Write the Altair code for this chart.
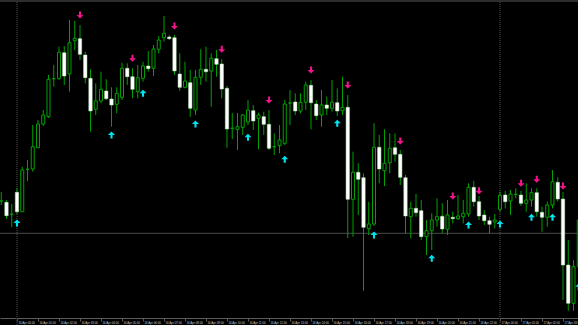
import altair as alt
import pandas as pd

# ---- candle data (index, open, high, low, close) ----
opens = [119, 117.7, 105.7, 127.7, 108.3, 150.7, 151, 172.3, 196, 203.3,
         241.3, 241.7, 267.3, 246, 279.3, 281.3, 265, 241.7, 210.7, 219,
         229, 221, 215.7, 222.7, 251.7, 243.3, 228.3, 241.7, 254, 251.7,
         270.7, 282.3, 283, 282.3, 246, 232.7, 237.3, 210, 242.7, 250.7,
         249, 261.3, 256, 231.7, 191.7, 190.7, 192.7, 198, 209.3, 201.7,
         203.3, 195.7, 173.3, 174.3, 176.7, 217, 218, 209, 217.7, 234.7,
         216, 205, 215, 211.7, 217.3, 209.3, 212.7, 120.7, 147.7, 142.3,
         91.3, 96, 172.7, 149.3, 157.3, 172.3, 165.7, 142.3, 103.3, 111.7,
         109.3, 83.3, 89.3, 100, 103.7, 90.7, 102.7, 101.3, 103.3, 106,
         132.7, 118.3, 105, 99.3, 98, 110.7, 125, 119, 125.7, 125,
         116.7, 120, 127.3, 107.7, 102.7, 115, 137.7, 121, 55, 16.7,
         53.3]
highs = [128, 120, 116, 132, 153.3, 160, 195, 200, 210, 245,
         255, 273.3, 274, 300, 299.3, 295, 268.3, 250.7, 236.7, 248.3,
         240.7, 232.7, 232.7, 257.3, 256.7, 251.7, 255, 258.3, 269, 275,
         284, 304, 285, 285, 266.7, 258.3, 250, 250, 270.7, 273.3,
         266.7, 270, 260.7, 234, 207, 207, 206, 220, 215, 207.3,
         208.3, 210, 186.7, 195, 220, 230, 226.7, 226.7, 238.3, 240,
         220, 230, 223.3, 240, 231.7, 243.3, 225, 168.3, 156.7, 146.7,
         118.3, 196.7, 185, 190.7, 186.7, 186.7, 170, 145, 118.3, 126,
         120, 100, 106.7, 121.7, 116.7, 120, 108.3, 125, 120, 136.7,
         139.3, 124, 110, 103.3, 106, 128.3, 129.3, 130, 131.7, 129.3,
         136.7, 131.7, 131.7, 113.3, 118.3, 150, 142.7, 128, 80, 60,
         120]
lows = [115, 101, 93, 106, 108, 139, 148.3, 172, 194, 202,
        233.3, 240, 235, 228.3, 270, 260, 236.7, 188.3, 205, 216.7,
        220, 193.3, 206.7, 220, 235, 221.7, 221.7, 238.3, 248.3, 244,
        266.7, 278.3, 280, 245, 229.3, 231.7, 203.3, 205, 235, 238.3,
        213.3, 243.3, 221.7, 172.3, 181, 170, 185, 195, 190, 170.7,
        185, 170, 165, 166.7, 175, 195, 205, 206.7, 210, 190.7,
        200, 193.3, 205, 208.3, 204, 205, 82, 83.3, 105, 29.3,
        85, 94, 136.7, 134, 146.7, 158.3, 135, 86.7, 81.7, 103.3,
        80, 65, 70, 93.3, 86.7, 85, 96.7, 100, 96.7, 103.3,
        113.3, 100, 95, 86.7, 91.7, 108.3, 111.7, 105, 121.7, 114,
        108.3, 113.3, 103.3, 88.3, 93.3, 111.7, 118.3, 20, 9.3, 9.3,
        50]
closes = [119, 104.3, 105.7, 108.3, 150, 150.7, 173.3, 196, 205, 240.7,
          241.3, 267.7, 244, 277.3, 281.7, 265.7, 242.3, 209, 219, 230.7,
          221.3, 215, 226.7, 251.7, 243.3, 230.7, 242.3, 254, 251.3, 271,
          280, 286.7, 281.3, 249, 232.7, 239, 211.7, 242.7, 250.7, 248.3,
          261.7, 255.7, 231, 191, 191.7, 193.3, 205, 210, 199, 205,
          195.7, 171.7, 173.3, 180, 216, 217, 209, 217.7, 235, 217.3,
          204.3, 215, 211.7, 217.7, 209, 212.7, 120.7, 147.7, 140.7, 92.7,
          96, 172.7, 151, 156.7, 171.7, 165.7, 142.7, 104, 111.7, 107.3,
          83.3, 89.3, 100, 103.3, 91, 105, 101.3, 104, 106.7, 132.7,
          118.3, 104, 99.3, 95.7, 100, 124.7, 118.3, 126, 125.7, 116.7,
          120, 127.3, 108.3, 102.7, 115, 138.3, 121, 55, 16.7, 53.3,
          100]

# ---- signal arrows ----
sell_idx = [15, 25, 33, 42, 51, 59, 66, 76, 86, 91, 99, 102, 107]
sell_lvl = [305, 261.7, 294, 270.7, 220, 250, 235, 179, 124, 129.3, 136.7, 140.7, 134]
buy_idx = [3, 21, 27, 37, 47, 54, 64, 71, 82, 89, 95, 101, 105, 110]
buy_lvl = [97, 185, 226.7, 196, 182.7, 160.7, 196.7, 85, 61.7, 95, 96, 102.7, 102.7, 33.3]

# ---- other elements ----
separator_idx = [3, 95]
level_price = [86.7]
tick_idx = [3, 7, 11, 15, 19, 23, 27, 31, 35, 39, 43, 47, 51, 55,
            59, 63, 67, 71, 75, 79, 83, 87, 91, 95, 99, 103, 107]
tick_labels = ["16 Apr 00:00", "16 Apr 01:00", "16 Apr 02:00", "16 Apr 03:00",
               "16 Apr 04:00", "16 Apr 05:00", "16 Apr 06:00", "16 Apr 07:00",
               "16 Apr 08:00", "16 Apr 09:00", "16 Apr 10:00", "16 Apr 11:00",
               "16 Apr 12:00", "16 Apr 13:00", "16 Apr 14:00", "16 Apr 15:00",
               "16 Apr 16:00", "16 Apr 17:00", "16 Apr 18:00", "16 Apr 19:00",
               "16 Apr 20:00", "16 Apr 21:00", "16 Apr 22:00", "17 Apr 00:00",
               "17 Apr 01:00", "17 Apr 02:00", "17 Apr 03:00"]

X_DOMAIN = [-0.238, 109.857]
Y_DOMAIN = [2, 320]

candles = pd.DataFrame({
    "i": list(range(len(opens))),
    "open": opens, "high": highs, "low": lows, "close": closes,
})
sells = pd.DataFrame({"i": sell_idx, "p": sell_lvl})
buys = pd.DataFrame({"i": buy_idx, "p": buy_lvl})
seps = pd.DataFrame({"i": separator_idx})
level = pd.DataFrame({"p": level_price})

label_array = "[" + ",".join("'" + s + "'" for s in tick_labels) + "]"
label_expr = label_array + "[round((datum.value-3)/4)]"

GREEN = "#00a000"


def X(field="i:Q"):
    return alt.X(field,
                 scale=alt.Scale(domain=X_DOMAIN, nice=False, zero=False, padding=0),
                 axis=alt.Axis(values=tick_idx, labelExpr=label_expr, title=None,
                               grid=False, domainColor="#5a5a5a", tickColor="#5a5a5a",
                               tickSize=3, labelColor="#c8c8c8", labelFontSize=2.9,
                               labelFont="Liberation Sans", labelAlign="left",
                               labelBaseline="top", labelPadding=0.5, labelOffset=1,
                               labelOverlap=False, labelFlush=False, labelBound=False))


def Y(field):
    return alt.Y(field, scale=alt.Scale(domain=Y_DOMAIN, nice=False, zero=False,
                                        padding=0),
                 axis=None)


base = alt.Chart(candles).transform_calculate(
    lo="min(datum.open, datum.close)",
    hi="max(datum.open, datum.close)",
    bull="datum.close >= datum.open",
)

wicks = base.mark_rule(color=GREEN, strokeWidth=1, clip=True).encode(
    x=X(), y=Y("low:Q"), y2="high:Q")

bull_bodies = base.transform_filter("datum.bull").mark_bar(
    size=3, fill="#000000", stroke=GREEN, strokeWidth=1, clip=True).encode(
    x=X(), y=Y("lo:Q"), y2="hi:Q")

bear_bodies = base.transform_filter("!datum.bull").mark_bar(
    size=3.4, fill="#ffffff", stroke="#b8e8b8", strokeWidth=0.5, clip=True).encode(
    x=X(), y=Y("lo:Q"), y2="hi:Q")

level_line = alt.Chart(level).mark_rule(color="#4a4a4a", strokeWidth=1).encode(
    y=Y("p:Q"), x=alt.value(0), x2=alt.value(578))

sep_lines = alt.Chart(seps).mark_rule(color="#3a3a3a", strokeWidth=1.5,
                                      strokeDash=[1, 1]).encode(
    x=X(), y=alt.value(2), y2=alt.value(325))

top_strip = alt.Chart(level).mark_rule(color="#2c2c2c", strokeWidth=2).encode(
    x=alt.value(0), x2=alt.value(578), y=alt.value(1))

DOWN = "M-0.3,-1L0.3,-1L0.3,0L1,0L0,1L-1,0L-0.3,0Z"
UP = "M-0.3,1L0.3,1L0.3,0L1,0L0,-1L-1,0L-0.3,0Z"

sell_marks = alt.Chart(sells).mark_point(shape=DOWN, filled=True, size=49,
                                         color="#f0148c", opacity=1,
                                         strokeWidth=0, clip=True).encode(
    x=X(), y=Y("p:Q"))
buy_marks = alt.Chart(buys).mark_point(shape=UP, filled=True, size=49,
                                       color="#00e4ee", opacity=1,
                                       strokeWidth=0, clip=True).encode(
    x=X(), y=Y("p:Q"))

chart = alt.layer(
    sep_lines, level_line, wicks, bull_bodies, bear_bodies,
    sell_marks, buy_marks, top_strip
).properties(
    width=578, height=318, background="#000000",
    padding={"left": 0, "top": 0, "right": 0, "bottom": 7},
    autosize=alt.AutoSizeParams(type="none"),
).configure_view(stroke=None)

chart.save("out.html", embed_options={"renderer": "svg", "actions": False})
